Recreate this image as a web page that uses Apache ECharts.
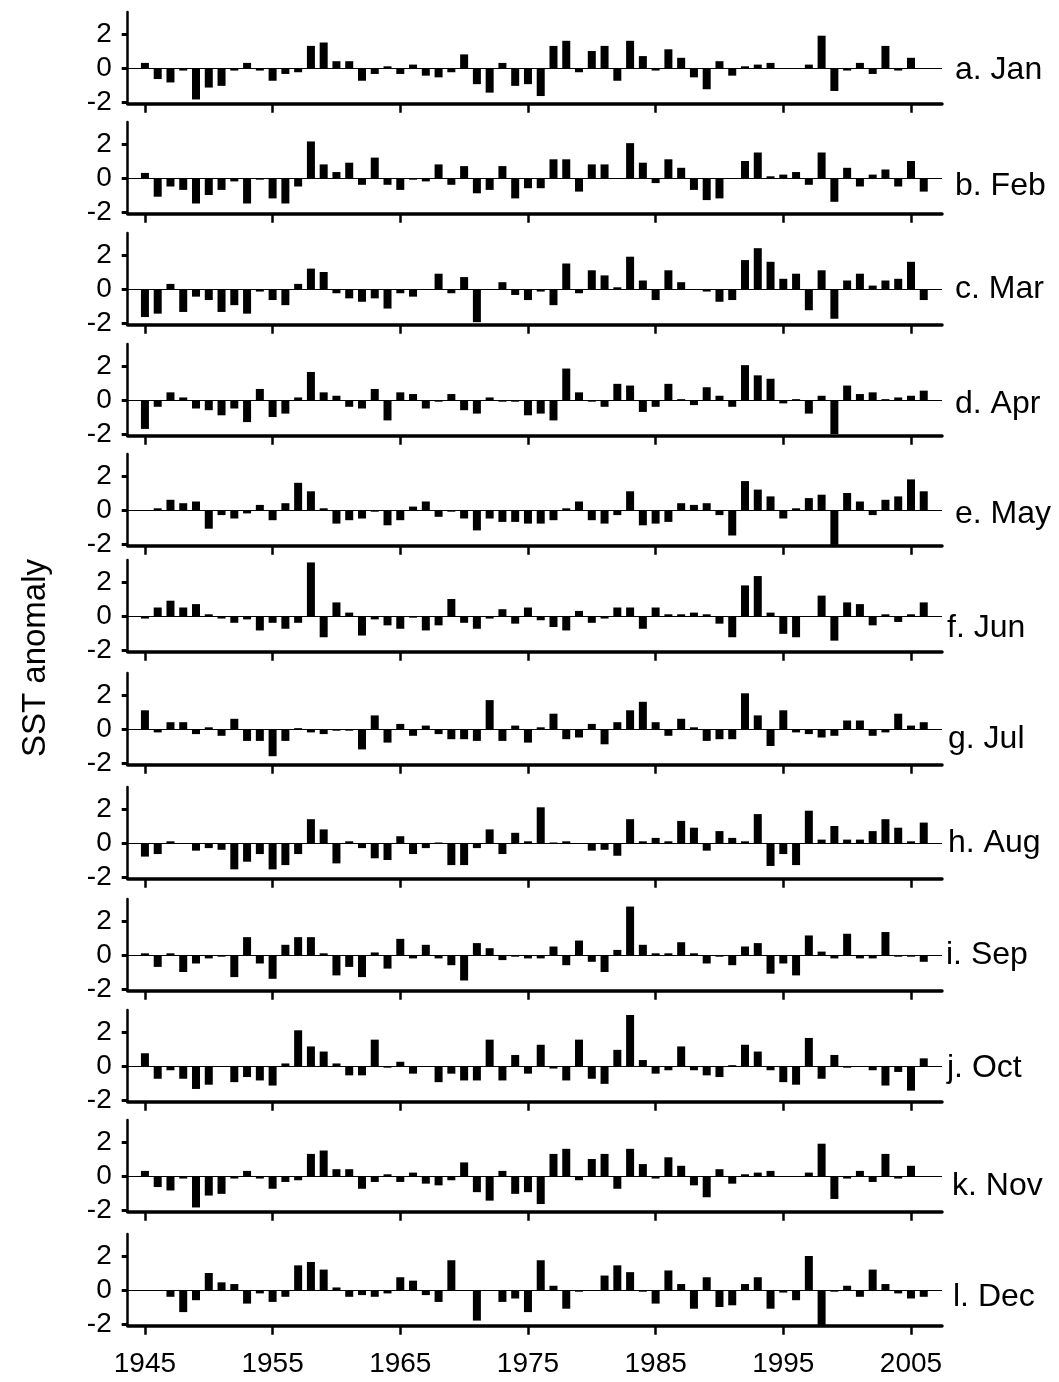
<!DOCTYPE html>
<html>
<head>
<meta charset="utf-8">
<script src="https://cdn.jsdelivr.net/npm/echarts@6/dist/echarts.min.js"></script>
<style>
  html, body { margin: 0; padding: 0; background: #fff; }
  #chart { width: 1059px; height: 1382px; }
</style>
</head>
<body>
<div id="chart"></div>
<script>
// Monthly SST anomaly, 1945-2006
const years = [1945, 1946, 1947, 1948, 1949, 1950, 1951, 1952, 1953, 1954,
  1955, 1956, 1957, 1958, 1959, 1960, 1961, 1962, 1963, 1964,
  1965, 1966, 1967, 1968, 1969, 1970, 1971, 1972, 1973, 1974,
  1975, 1976, 1977, 1978, 1979, 1980, 1981, 1982, 1983, 1984,
  1985, 1986, 1987, 1988, 1989, 1990, 1991, 1992, 1993, 1994,
  1995, 1996, 1997, 1998, 1999, 2000, 2001, 2002, 2003, 2004,
  2005, 2006];

const tickYears = [1945, 1955, 1965, 1975, 1985, 1995, 2005];
const tickValues = [-2, 0, 2];

const jan = [0.3, -0.65, -0.85, -0.15, -1.85, -1.15, -1.05, -0.15, 0.3, -0.15,
  -0.75, -0.35, -0.25, 1.3, 1.5, 0.4, 0.4, -0.75, -0.35, 0.1,
  -0.35, 0.2, -0.45, -0.55, -0.25, 0.8, -0.95, -1.45, 0.3, -1.05,
  -0.95, -1.65, 1.3, 1.6, -0.25, 1.0, 1.3, -0.75, 1.6, 0.7,
  -0.15, 1.1, 0.6, -0.55, -1.25, 0.4, -0.45, 0.1, 0.2, 0.3,
  0, 0, 0.2, 1.9, -1.35, -0.15, 0.3, -0.35, 1.3, -0.15,
  0.6];

const feb = [0.3, -1.1, -0.5, -0.7, -1.5, -1.0, -0.7, -0.2, -1.5, -0.1,
  -1.2, -1.5, -0.5, 2.15, 0.8, 0.35, 0.9, -0.4, 1.2, -0.4,
  -0.7, -0.1, -0.2, 0.8, -0.4, 0.7, -0.9, -0.7, 0.7, -1.2,
  -0.6, -0.6, 1.1, 1.1, -0.8, 0.8, 0.8, -0.05, 2.05, 0.9,
  -0.3, 1.1, 0.6, -0.7, -1.3, -1.2, -0.05, 1.0, 1.5, 0.1,
  0.2, 0.35, -0.4, 1.5, -1.4, 0.6, -0.5, 0.2, 0.5, -0.5,
  1.0, -0.8];

const mar = [-1.65, -1.45, 0.3, -1.35, -0.45, -0.65, -1.35, -0.95, -1.45, -0.15,
  -0.65, -0.95, 0.3, 1.2, 1.0, -0.25, -0.55, -0.75, -0.55, -1.15,
  -0.25, -0.45, 0, 0.9, -0.25, 0.7, -1.95, 0, 0.4, -0.35,
  -0.65, -0.15, -0.95, 1.5, -0.25, 1.1, 0.8, 0.1, 1.9, 0.5,
  -0.65, 1.1, 0.4, 0, -0.15, -0.75, -0.65, 1.7, 2.4, 1.6,
  0.6, 0.9, -1.25, 1.1, -1.75, 0.5, 0.9, 0.2, 0.5, 0.6,
  1.6, -0.65];

const apr = [-1.7, -0.4, 0.45, 0.15, -0.5, -0.6, -0.9, -0.5, -1.3, 0.65,
  -1.0, -0.8, 0.15, 1.65, 0.45, 0.25, -0.4, -0.5, 0.65, -1.2,
  0.45, 0.35, -0.5, -0.1, 0.35, -0.6, -0.8, 0.15, -0.1, -0.1,
  -0.9, -0.8, -1.2, 1.85, 0.45, -0.1, -0.4, 0.95, 0.85, -0.7,
  -0.4, 0.95, 0.05, -0.3, 0.75, 0.25, -0.4, 2.05, 1.45, 1.25,
  -0.2, 0.05, -0.8, 0.25, -2.0, 0.85, 0.35, 0.45, 0.05, 0.15,
  0.25, 0.55];

const may = [-0.03, 0.1, 0.6, 0.4, 0.5, -1.1, -0.3, -0.5, -0.2, 0.3,
  -0.6, 0.4, 1.6, 1.1, 0.1, -0.8, -0.6, -0.5, -0.1, -0.9,
  -0.6, 0.2, 0.5, -0.4, -0.1, -0.5, -1.2, -0.5, -0.7, -0.7,
  -0.8, -0.8, -0.6, 0.1, 0.5, -0.6, -0.8, -0.3, 1.1, -0.9,
  -0.8, -0.7, 0.4, 0.3, 0.4, -0.3, -1.5, 1.7, 1.2, 0.8,
  -0.5, 0.1, 0.7, 0.9, -2.05, 1.0, 0.5, -0.3, 0.6, 0.8,
  1.8, 1.1];

const jun = [-0.15, 0.5, 0.9, 0.5, 0.7, 0.1, -0.15, -0.4, -0.2, -0.85,
  -0.4, -0.75, -0.4, 3.15, -1.25, 0.8, 0.2, -1.15, -0.2, -0.55,
  -0.75, -0.1, -0.85, -0.55, 1.0, -0.4, -0.75, -0.15, 0.4, -0.45,
  0.5, -0.25, -0.65, -0.85, 0.3, -0.4, -0.15, 0.5, 0.5, -0.75,
  0.5, 0.1, 0.1, 0.2, 0.1, -0.45, -1.25, 1.8, 2.35, 0.2,
  -1.05, -1.25, -0.05, 1.2, -1.45, 0.8, 0.7, -0.55, 0.1, -0.35,
  0.1, 0.8];

const jul = [1.1, -0.2, 0.4, 0.4, -0.3, 0.1, -0.4, 0.6, -0.7, -0.7,
  -1.6, -0.7, 0.05, -0.2, -0.3, -0.1, -0.1, -1.2, 0.8, -0.8,
  0.3, -0.4, 0.2, -0.3, -0.6, -0.6, -0.7, 1.7, -0.7, 0.2,
  -0.8, 0.1, 0.9, -0.6, -0.5, 0.3, -0.9, 0.4, 1.1, 1.6,
  0.4, -0.4, 0.6, 0.1, -0.7, -0.6, -0.6, 2.1, 0.8, -1.0,
  1.1, -0.2, -0.3, -0.5, -0.4, 0.5, 0.5, -0.4, -0.2, 0.9,
  0.2, 0.4];

const aug = [-0.8, -0.65, 0.1, -0.05, -0.45, -0.3, -0.4, -1.55, -1.1, -0.65,
  -1.55, -1.3, -0.65, 1.4, 0.8, -1.2, 0.1, -0.3, -0.9, -1.0,
  0.4, -0.65, -0.3, 0.03, -1.3, -1.3, -0.3, 0.8, -0.65, 0.6,
  0.1, 2.1, 0.03, 0.1, -0.05, -0.45, -0.4, -0.75, 1.4, 0.1,
  0.3, 0.1, 1.3, 0.9, -0.45, 0.7, 0.3, 0.1, 1.7, -1.35,
  -0.65, -1.3, 1.9, 0.2, 1.0, 0.2, 0.2, 0.7, 1.4, 0.9,
  0.1, 1.2];

const sep = [0.1, -0.7, 0.1, -1.0, -0.5, -0.2, -0.1, -1.3, 1.05, -0.5,
  -1.4, 0.6, 1.05, 1.05, 0.1, -1.2, -0.7, -1.3, 0.15, -0.8,
  0.95, -0.2, 0.6, -0.2, -0.6, -1.5, 0.7, 0.4, -0.3, -0.1,
  -0.2, -0.2, 0.5, -0.6, 0.85, -0.4, -1.0, 0.3, 2.85, 0.6,
  0.1, 0.1, 0.75, 0.1, -0.5, -0.1, -0.6, 0.5, 0.7, -1.1,
  -0.5, -1.2, 1.15, 0.2, -0.2, 1.25, -0.2, -0.2, 1.35, -0.1,
  -0.1, -0.4];

const oct = [0.75, -0.75, -0.25, -0.75, -1.35, -1.1, 0, -0.95, -0.65, -0.85,
  -1.15, 0.15, 2.1, 1.15, 0.85, 0.15, -0.55, -0.55, 1.55, -0.1,
  0.25, -0.45, 0, -0.95, -0.45, -0.85, -0.85, 1.55, -0.85, 0.65,
  -0.45, 1.25, -0.15, -0.85, 1.55, -0.75, -1.05, 0.95, 3.0, 0.35,
  -0.45, -0.25, 1.15, -0.25, -0.55, -0.65, 0.05, 1.25, 0.85, -0.25,
  -0.95, -1.1, 1.65, -0.75, 0.65, -0.1, 0, -0.25, -1.15, -0.35,
  -1.45, 0.45];

const nov = [0.3, -0.65, -0.85, -0.15, -1.85, -1.15, -1.05, -0.15, 0.3, -0.15,
  -0.75, -0.35, -0.25, 1.3, 1.5, 0.4, 0.4, -0.75, -0.35, 0.1,
  -0.35, 0.2, -0.45, -0.55, -0.25, 0.8, -0.95, -1.45, 0.3, -1.05,
  -0.95, -1.65, 1.3, 1.6, -0.25, 1.0, 1.3, -0.75, 1.6, 0.7,
  -0.15, 1.1, 0.6, -0.55, -1.25, 0.4, -0.45, 0.1, 0.2, 0.3,
  0, 0, 0.2, 1.9, -1.35, -0.15, 0.3, -0.35, 1.3, -0.15,
  0.6];

const dec = [-0.02, -0.02, -0.4, -1.3, -0.6, 1.0, 0.45, 0.35, -0.8, -0.2,
  -0.7, -0.4, 1.45, 1.65, 1.2, 0.15, -0.4, -0.3, -0.4, -0.2,
  0.75, 0.55, -0.3, -0.7, 1.75, -0.05, -1.8, 0, -0.7, -0.5,
  -1.3, 1.75, 0.25, -1.1, -0.1, -0.05, 0.85, 1.45, 1.05, -0.1,
  -0.8, 1.15, 0.35, -1.1, 0.75, -1.0, -0.9, 0.35, 0.75, -1.1,
  -0.15, -0.6, 2.0, -2.15, -0.1, 0.25, -0.4, 1.2, 0.35, -0.2,
  -0.5, -0.4];

const monthSeries = [jan, feb, mar, apr, may, jun, jul, aug, sep, oct, nov, dec];
const panelLabels = ['a. Jan', 'b. Feb', 'c. Mar', 'd. Apr', 'e. May', 'f. Jun',
  'g. Jul', 'h. Aug', 'i. Sep', 'j. Oct', 'k. Nov', 'l. Dec'];

// Layout: pixel row of each panel's zero line, and of its label
const zeroRows = [68, 178, 289, 400, 510, 616, 729, 843, 955, 1066, 1176, 1290];
const labelRows = [70, 186, 289, 404, 514, 628, 739, 843, 955, 1068, 1186, 1297];
const labelLefts = [955, 955, 955, 955, 955, 947, 948, 948, 946, 947, 952, 953];

const FONT = '"Liberation Sans", Arial, Helvetica, sans-serif';
const TICK_FONT = 28, LABEL_FONT = 32, TITLE_FONT = 33;
const PX_PER_UNIT = 17;
const Y_MIN = -2.1, Y_MAX = 3.3;
const X_MIN = 1943.65, X_MAX = 2007.43;
const PLOT_LEFT = 127.7, PLOT_RIGHT = 942;

const grids = [], xAxes = [], yAxes = [], series = [], graphics = [];

monthSeries.forEach((vals, i) => {
  const top = zeroRows[i] - Y_MAX * PX_PER_UNIT;
  grids.push({
    left: PLOT_LEFT, width: PLOT_RIGHT - PLOT_LEFT,
    top: top, height: (Y_MAX - Y_MIN) * PX_PER_UNIT
  });
  xAxes.push({
    gridIndex: i, type: 'value', min: X_MIN, max: X_MAX,
    axisLine: { show: true, onZero: false, lineStyle: { color: '#000', width: 3.5 } },
    axisTick: { show: true, customValues: tickYears, length: 9, lineStyle: { color: '#000', width: 2.5 } },
    axisLabel: {
      show: i === monthSeries.length - 1, customValues: tickYears,
      formatter: v => String(v),
      fontSize: TICK_FONT, fontFamily: FONT, color: '#000', margin: 25
    },
    splitLine: { show: false }
  });
  yAxes.push({
    gridIndex: i, type: 'value', min: Y_MIN, max: Y_MAX,
    axisLine: { show: true, onZero: false, lineStyle: { color: '#000', width: 2.5 } },
    axisTick: { show: true, customValues: tickValues, length: 6, lineStyle: { color: '#000', width: 3 } },
    axisLabel: {
      customValues: tickValues, formatter: v => String(v),
      fontSize: TICK_FONT, fontFamily: FONT, color: '#000', margin: 16
    },
    splitLine: { show: false }
  });
  series.push({
    type: 'bar', xAxisIndex: i, yAxisIndex: i,
    data: vals.map((v, k) => [years[k], v]),
    barWidth: 8,
    itemStyle: { color: '#000' },
    markLine: {
      silent: true, symbol: 'none', label: { show: false },
      lineStyle: { color: '#000', width: 1, type: 'solid' },
      data: [{ yAxis: 0 }]
    }
  });
  graphics.push({
    type: 'text', x: labelLefts[i], y: labelRows[i],
    style: {
      text: panelLabels[i], font: LABEL_FONT + 'px ' + FONT, fill: '#000',
      align: 'left', verticalAlign: 'middle'
    }
  });
});

graphics.push({
  type: 'text', x: 36, y: 658, rotation: Math.PI / 2,
  style: {
    text: 'SST anomaly', font: TITLE_FONT + 'px ' + FONT, fill: '#000',
    align: 'center', verticalAlign: 'middle'
  }
});

const chart = echarts.init(document.getElementById('chart'));
chart.setOption({
  animation: false,
  backgroundColor: '#fff',
  grid: grids,
  xAxis: xAxes,
  yAxis: yAxes,
  series: series,
  graphic: graphics
});
</script>
</body>
</html>
